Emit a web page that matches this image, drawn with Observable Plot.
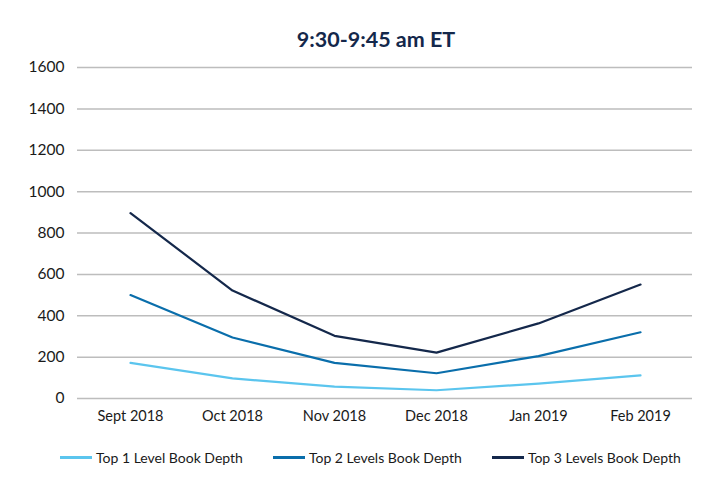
<!DOCTYPE html>
<html>
<head>
<meta charset="utf-8">
<script src="https://cdn.jsdelivr.net/npm/d3@7"></script>
<script src="https://cdn.jsdelivr.net/npm/@observablehq/plot@0.6"></script>
<style>
  body { margin: 0; background: #fff; font-family: Lato, "Open Sans", sans-serif; }
  #wrap { width: 720px; }
  #title { text-align: center; font-weight: bold; font-size: 21.5px; color: #14284b; padding-top: 26px; height: 29px; line-height: 26px; padding-left: 32px; }
  #legend { display: flex; justify-content: flex-start; gap: 30px; padding-left: 60px; font-size: 14px; color: #1a1a1a; margin-top: 16px; }
  .item { display: flex; align-items: center; }
  .sw { display: inline-block; width: 32px; height: 2.5px; margin-right: 4px; }
</style>
</head>
<body>
<div id="wrap">
  <div id="title">9:30-9:45 am ET</div>
  <div id="chart"></div>
  <div id="legend"></div>
</div>
<script>
const months = ["Sept 2018", "Oct 2018", "Nov 2018", "Dec 2018", "Jan 2019", "Feb 2019"];
const seriesNames = ["Top 1 Level Book Depth", "Top 2 Levels Book Depth", "Top 3 Levels Book Depth"];
const top1 = [172, 97, 57, 40, 72, 112];
const top2 = [500, 295, 172, 122, 205, 320];
const top3 = [896, 522, 303, 222, 363, 551];
const colors = ["#5bc5ee", "#0a6eab", "#14284b"];
const yTicks = [0, 200, 400, 600, 800, 1000, 1200, 1400, 1600];

const allSeries = [top1, top2, top3];
const data = [];
allSeries.forEach((vals, si) => vals.forEach((v, i) => data.push({ month: months[i], value: v, series: seriesNames[si] })));

const chart = Plot.plot({
  width: 720,
  height: 378,
  marginLeft: 77,
  marginRight: 28,
  marginTop: 12,
  marginBottom: 35,
  style: { fontFamily: "Lato, 'Open Sans', sans-serif", fontSize: "15px", color: "#1a1a1a", background: "#fff" },
  x: { type: "point", domain: months, padding: 0.5, label: null, tickSize: 0, tickPadding: 12 },
  y: { domain: [0, 1600], ticks: yTicks, label: null, tickSize: 0, tickPadding: 13 },
  color: { domain: seriesNames, range: colors },
  marks: [
    Plot.gridY(yTicks, { stroke: "#bdbdbd", strokeOpacity: 1, strokeWidth: 1.5 }),
    Plot.axisY({ ticks: yTicks, tickFormat: d => String(d), tickSize: 0, tickPadding: 13, label: null, fontSize: 15.5 }),
    Plot.axisX({ tickSize: 0, tickPadding: 12, label: null, fontSize: 14.5 }),
    Plot.line(data, { x: "month", y: "value", z: "series", stroke: "series", strokeWidth: 2.2 })
  ]
});
document.getElementById("chart").appendChild(chart);

const legend = document.getElementById("legend");
seriesNames.forEach((name, i) => {
  const it = document.createElement("div");
  it.className = "item";
  const sw = document.createElement("span");
  sw.className = "sw";
  sw.style.background = colors[i];
  const tx = document.createElement("span");
  tx.textContent = name;
  it.appendChild(sw);
  it.appendChild(tx);
  legend.appendChild(it);
});
</script>
</body>
</html>
